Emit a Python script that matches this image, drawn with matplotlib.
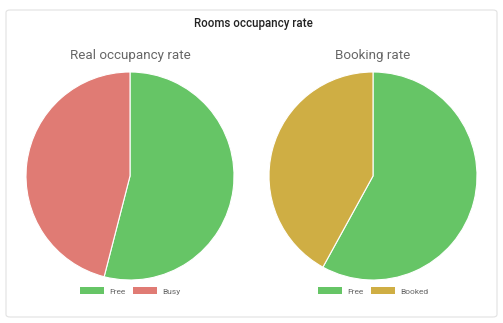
import matplotlib.pyplot as plt
from matplotlib.patches import FancyBboxPatch, Patch

# data
real_labels = ['Free', 'Busy']
real_values = [54, 46]
booking_labels = ['Free', 'Booked']
booking_values = [58, 42]

green = '#66c566'
red = '#e07b74'
gold = '#cfae44'

W, H = 503, 323
fig = plt.figure(figsize=(W / 100, H / 100), dpi=100)
fig.patch.set_facecolor('white')

# card
card = FancyBboxPatch((6 / W, 6 / H), 491 / W, 307 / H,
                      boxstyle='round,pad=0,rounding_size=0.008',
                      transform=fig.transFigure, facecolor='white',
                      edgecolor='#e2e2e2', linewidth=0.8, zorder=-10)
fig.patches.append(card)

fig.text(253 / W, 1 - 24 / H, 'Rooms occupancy rate', ha='center', va='center',
         fontsize=8.3, fontweight='medium', color='#222222', family='Roboto')


def draw_pie(cx, cy, r, values, labels, colors, title):
    ax = fig.add_axes([(cx - r) / W, 1 - (cy + r) / H, 2 * r / W, 2 * r / H])
    ax.pie(values, colors=colors, startangle=90, counterclock=False,
           wedgeprops=dict(edgecolor='white', linewidth=0.8))
    ax.set_aspect('equal')
    ax.set_xlim(-1, 1)
    ax.set_ylim(-1, 1)
    ax.set_facecolor('none')
    fig.text(cx / W, 1 - 56 / H, title, ha='center', va='center',
             fontsize=9.6, color='#666666', family='Roboto')
    handles = [Patch(facecolor=c, edgecolor='none') for c in colors]
    fig.legend(handles, labels, loc='center', bbox_to_anchor=(cx / W, 1 - 291 / H),
               ncol=len(labels), frameon=False, handlelength=2.9,
               handleheight=0.9, columnspacing=0.9, handletextpad=0.6,
               labelcolor='#666666', prop={'family': 'Roboto', 'size': 6})


draw_pie(130, 176, 104, real_values, real_labels, [green, red], 'Real occupancy rate')
draw_pie(373, 176, 104, booking_values, booking_labels, [green, gold], 'Booking rate')

fig.savefig('out.png', dpi=100)
